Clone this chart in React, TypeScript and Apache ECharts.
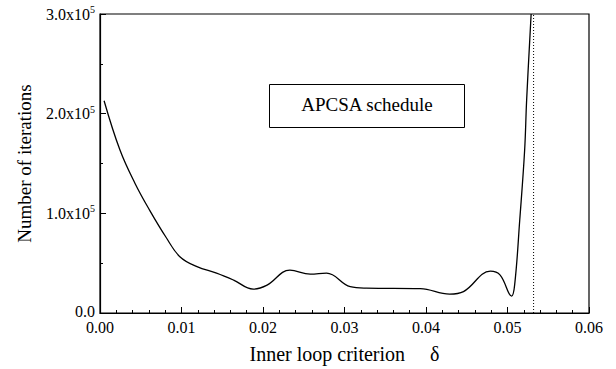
import React, { useEffect, useRef } from "react";
import * as echarts from "echarts";

const deltaValues = [0.0005, 0.00245, 0.0043, 0.0061, 0.0081, 0.0098, 0.0119, 0.0143, 0.0164, 0.0188, 0.0205, 0.0233, 0.0258, 0.0278, 0.0307, 0.0327, 0.0393, 0.0429, 0.0446, 0.0479, 0.0491, 0.0505, 0.0509, 0.0515, 0.0521, 0.05235, 0.0529];
const iterations = [213000, 163500, 130000, 103000, 76000, 56500, 46500, 40000, 33000, 24000, 28000, 43000, 39000, 40000, 26500, 25000, 24500, 19000, 21500, 42000, 38000, 17000, 30000, 93000, 163000, 214000, 300000];
const limitDelta = 0.0532;
const yTickLabels: Record<string, string> = {
  "0": "0.0",
  "100000": "1.0x10",
  "200000": "2.0x10",
  "300000": "3.0x10",
};
const legendText = "APCSA schedule";

export default function App() {
  const ref = useRef<HTMLDivElement>(null);
  useEffect(() => {
    if (!ref.current) return;
    const chart = echarts.init(ref.current, undefined, { renderer: "svg" });
    const font = "Liberation Serif";
    chart.setOption({
      animation: false,
      backgroundColor: "#fff",
      textStyle: { fontFamily: font },
      grid: { left: 100, right: 27, top: 14, bottom: 56, show: true, borderColor: "#000", borderWidth: 1.2 },
      xAxis: {
        type: "value",
        min: 0,
        max: 0.06,
        interval: 0.01,
        name: "Inner loop criterion     δ",
        nameLocation: "middle",
        nameGap: 31,
        nameTextStyle: { fontFamily: font, fontSize: 20, color: "#000" },
        axisLine: { show: true, lineStyle: { color: "#000", width: 1.2 } },
        axisTick: { show: true, inside: true, length: 6, lineStyle: { color: "#000" } },
        minorTick: { show: true, splitNumber: 5, length: 3, lineStyle: { color: "#000" } },
        splitLine: { show: false },
        axisLabel: {
          fontFamily: font, fontSize: 16, lineHeight: 14, color: "#000", margin: 7,
          formatter: (v: number) => v.toFixed(2),
        },
      },
      yAxis: {
        type: "value",
        min: 0,
        max: 300000,
        interval: 100000,
        name: "Number of iterations",
        nameLocation: "middle",
        nameGap: 66,
        nameTextStyle: { fontFamily: font, fontSize: 19, color: "#000" },
        axisLine: { show: true, lineStyle: { color: "#000", width: 1.2 } },
        axisTick: { show: true, inside: true, length: 6, lineStyle: { color: "#000" } },
        minorTick: { show: true, splitNumber: 2, length: 3, lineStyle: { color: "#000" } },
        splitLine: { show: false },
        axisLabel: {
          fontFamily: font, fontSize: 16, color: "#000", margin: 5,
          formatter: (v: number) => {
            const s = yTickLabels[String(v)];
            if (v === 0) return "{z|" + s + "}";
            return "{a|" + s + "}{s|5}";
          },
          rich: {
            z: { fontFamily: font, fontSize: 16, lineHeight: 12, color: "#000", padding: [0, 0, 4, 0] },
            a: { fontFamily: font, fontSize: 16, color: "#000" },
            s: { fontFamily: font, fontSize: 10, color: "#000", verticalAlign: "top", padding: [0, 0, 9, 0] },
          },
        },
      },
      series: [
        {
          type: "line",
          data: deltaValues.map((d, i) => [d, iterations[i]]),
          smooth: 0.4,
          showSymbol: false,
          clip: true,
          lineStyle: { color: "#000", width: 1.3 },
        },
        {
          type: "line",
          data: [[limitDelta, 0], [limitDelta, 300000]],
          showSymbol: false,
          lineStyle: { color: "#000", type: [1, 2], width: 1 },
        },
      ],
      graphic: [
        {
          type: "group",
          left: 269,
          top: 84,
          children: [
            { type: "rect", shape: { x: 0, y: 0, width: 195, height: 43 }, style: { fill: "#fff", stroke: "#000", lineWidth: 1 } },
            {
              type: "text",
              x: 97.5,
              y: 20,
              style: { text: legendText, fontFamily: font, fontSize: 19, fill: "#000", align: "center", verticalAlign: "middle" },
            },
          ],
        },
      ],
    });
    return () => chart.dispose();
  }, []);
  return <div ref={ref} style={{ width: 616, height: 369, position: "absolute", left: 0, top: 0 }} />;
}
